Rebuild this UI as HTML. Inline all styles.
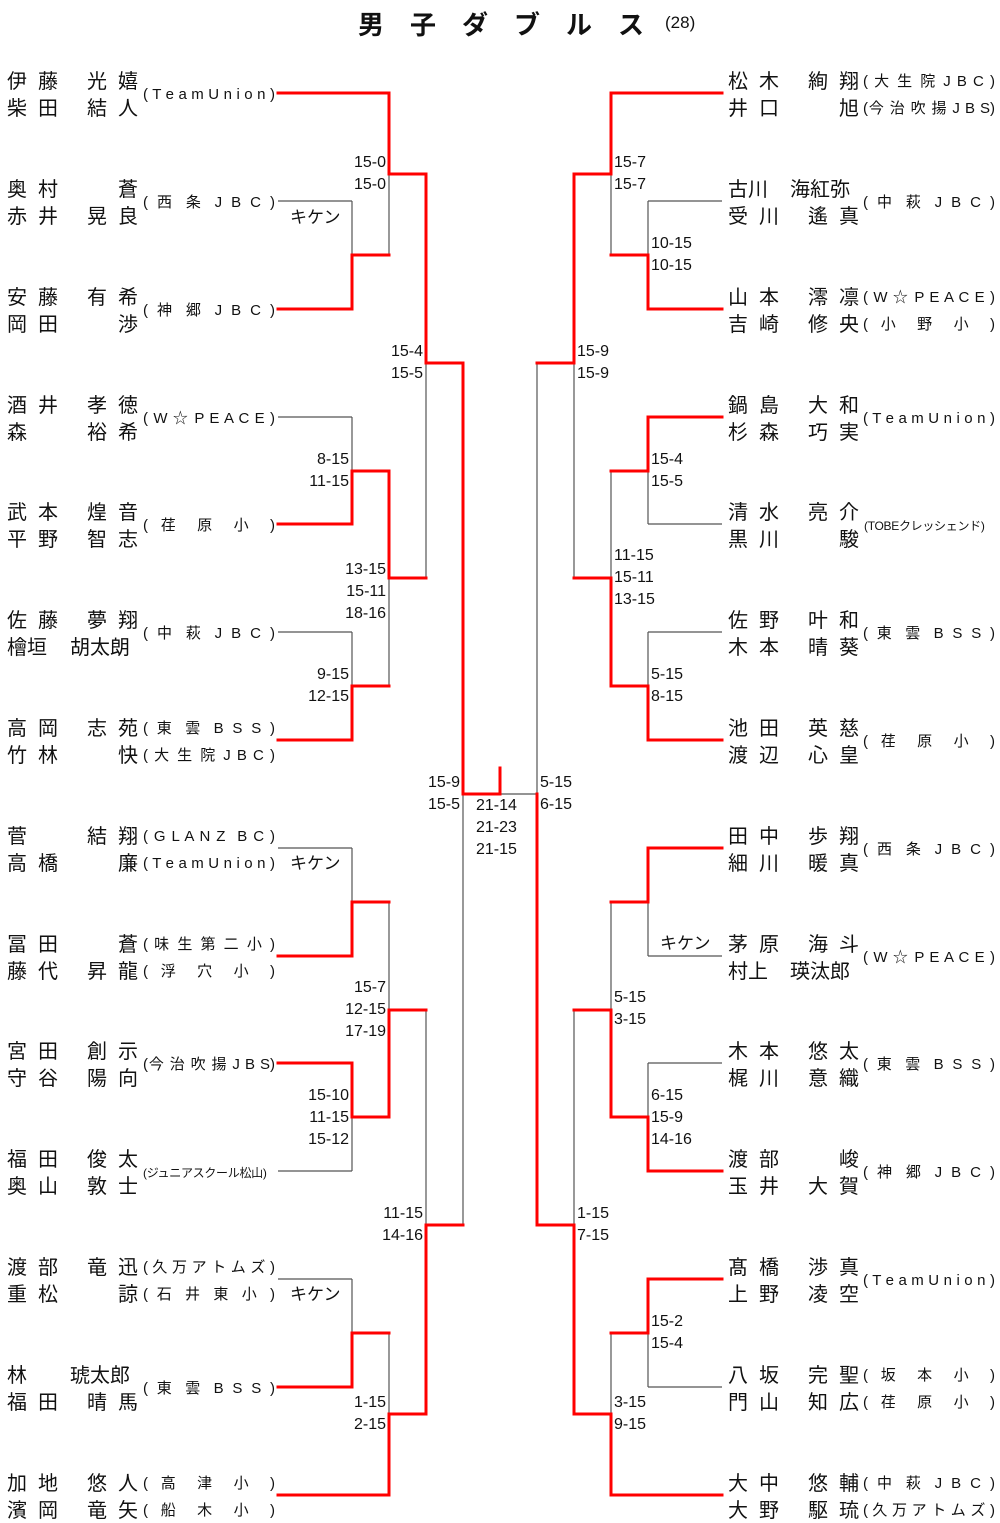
<!DOCTYPE html>
<html><head><meta charset="utf-8">
<style>
body{margin:0;background:#fff;}
#w{position:relative;width:1000px;height:1523px;overflow:hidden;font-family:"Liberation Sans","Noto Sans CJK JP",sans-serif;color:#111;}
.nm{position:absolute;height:20px;width:140px;font-size:20px;line-height:20px;white-space:nowrap;margin-top:2px}
.nm span{position:absolute;top:0;}
.s2{left:0;letter-spacing:11px}
.sc{left:0}
.g2{left:80px;letter-spacing:11px}
.g1{left:111px}
.g3{left:63px}
.af{position:absolute;width:132px;font-size:15px;line-height:18px;text-align:justify;text-align-last:justify;white-space:normal;height:18px;overflow:visible;margin-top:2px}
.afs{position:absolute;font-size:12px;line-height:18px;white-space:nowrap;letter-spacing:-0.3px;margin-top:2px}
.sl{position:absolute;font-size:16px;line-height:22px;text-align:right;white-space:nowrap}
.sr{position:absolute;font-size:16px;line-height:22px;text-align:left;white-space:nowrap}
.kk{position:absolute;font-size:17px;line-height:20px}
svg{position:absolute;left:0;top:0}
</style></head><body><div id="w">
<div style="position:absolute;left:358px;top:8px;font-size:26px;font-weight:bold;letter-spacing:26px;line-height:32px;font-family:'Noto Sans CJK JP',sans-serif">男子ダブルス</div>
<div style="position:absolute;left:665px;top:13px;font-size:17px;line-height:20px">(28)</div>

<svg width="1000" height="1523">
<g stroke="#555" stroke-width="1.2" fill="none">
<path d="M278 201H352M278 417H352M278 632H352M278 848H352M278 1171H352M278 1279H352
M352 201V255M389 174V255M352 417V471M352 632V686M389 578V686M426 363V578M463 794V1225M352 848V902M352 1117V1171M389 902V1010M352 1279V1333M389 1333V1414M426 1010V1225M500 794H537
M648 201H722M648 524H722M648 632H722M648 956H722M648 1063H722M648 1387H722
M648 201V255M611 174V255M648 471V524M648 632V686M611 471V578M574 363V578M537 363V794M648 902V956M648 1063V1117M611 902V1010M574 1010V1225M648 1333V1387M611 1333V1414"/>
</g>
<g stroke="#f00" stroke-width="3" fill="none" stroke-linecap="square">
<path d="M278 93H389V174H426M278 309H352V255H389M278 524H352V471H389M278 740H352V686H389M389 471V578H426M426 174V363H463V794H500V768
M278 956H352V902H389M278 1063H352V1117H389M389 1117V1010H426M278 1387H352V1333H389M278 1495H389V1414H426M426 1414V1225H463
M722 93H611V174H574M722 309H648V255H611M574 174V363H537M722 417H648V471H611M722 740H648V686H611M611 686V578H574M537 794V1225H574
M722 848H648V902H611M722 1171H648V1117H611M611 1117V1010H574M574 1225V1414H611M722 1279H648V1333H611M722 1495H611V1414"/>
</g>
</svg>

<!-- LEFT NAMES -->
<div class="nm" style="left:7px;top:70px"><span class="s2">伊藤</span><span class="g2">光嬉</span></div>
<div class="nm" style="left:7px;top:97px"><span class="s2">柴田</span><span class="g2">結人</span></div>
<div class="af" style="left:143px;top:84px">( T e a m U n i o n )</div>

<div class="nm" style="left:7px;top:178px"><span class="s2">奥村</span><span class="g1">蒼</span></div>
<div class="nm" style="left:7px;top:205px"><span class="s2">赤井</span><span class="g2">晃良</span></div>
<div class="af" style="left:143px;top:192px">( 西 条 J B C )</div>

<div class="nm" style="left:7px;top:286px"><span class="s2">安藤</span><span class="g2">有希</span></div>
<div class="nm" style="left:7px;top:313px"><span class="s2">岡田</span><span class="g1">渉</span></div>
<div class="af" style="left:143px;top:300px">( 神 郷 J B C )</div>

<div class="nm" style="left:7px;top:394px"><span class="s2">酒井</span><span class="g2">孝徳</span></div>
<div class="nm" style="left:7px;top:421px"><span class="sc">森</span><span class="g2">裕希</span></div>
<div class="af" style="left:143px;top:408px">( W ☆ P E A C E )</div>

<div class="nm" style="left:7px;top:501px"><span class="s2">武本</span><span class="g2">煌音</span></div>
<div class="nm" style="left:7px;top:528px"><span class="s2">平野</span><span class="g2">智志</span></div>
<div class="af" style="left:143px;top:515px">( 荏 原 小 )</div>

<div class="nm" style="left:7px;top:609px"><span class="s2">佐藤</span><span class="g2">夢翔</span></div>
<div class="nm" style="left:7px;top:636px"><span class="sc">檜垣</span><span class="g3">胡太朗</span></div>
<div class="af" style="left:143px;top:623px">( 中 萩 J B C )</div>

<div class="nm" style="left:7px;top:717px"><span class="s2">高岡</span><span class="g2">志苑</span></div>
<div class="nm" style="left:7px;top:744px"><span class="s2">竹林</span><span class="g1">快</span></div>
<div class="af" style="left:143px;top:718px">( 東 雲 B S S )</div>
<div class="af" style="left:143px;top:745px">( 大 生 院 J B C )</div>

<div class="nm" style="left:7px;top:825px"><span class="sc">菅</span><span class="g2">結翔</span></div>
<div class="nm" style="left:7px;top:852px"><span class="s2">高橋</span><span class="g1">廉</span></div>
<div class="af" style="left:143px;top:826px">( G L A N Z &nbsp;B C )</div>
<div class="af" style="left:143px;top:853px">( T e a m U n i o n )</div>

<div class="nm" style="left:7px;top:933px"><span class="s2">冨田</span><span class="g1">蒼</span></div>
<div class="nm" style="left:7px;top:960px"><span class="s2">藤代</span><span class="g2">昇龍</span></div>
<div class="af" style="left:143px;top:934px">( 味 生 第 二 小 )</div>
<div class="af" style="left:143px;top:961px">( 浮 穴 小 )</div>

<div class="nm" style="left:7px;top:1040px"><span class="s2">宮田</span><span class="g2">創示</span></div>
<div class="nm" style="left:7px;top:1067px"><span class="s2">守谷</span><span class="g2">陽向</span></div>
<div class="af" style="left:143px;top:1054px">(今 治 吹 揚 J B S)</div>

<div class="nm" style="left:7px;top:1148px"><span class="s2">福田</span><span class="g2">俊太</span></div>
<div class="nm" style="left:7px;top:1175px"><span class="s2">奥山</span><span class="g2">敦士</span></div>
<div class="afs" style="left:143px;top:1162px">(ジュニアスクール松山)</div>

<div class="nm" style="left:7px;top:1256px"><span class="s2">渡部</span><span class="g2">竜迅</span></div>
<div class="nm" style="left:7px;top:1283px"><span class="s2">重松</span><span class="g1">諒</span></div>
<div class="af" style="left:143px;top:1257px">( 久 万 ア ト ム ズ )</div>
<div class="af" style="left:143px;top:1284px">( 石 井 東 小 )</div>

<div class="nm" style="left:7px;top:1364px"><span class="sc">林</span><span class="g3">琥太郎</span></div>
<div class="nm" style="left:7px;top:1391px"><span class="s2">福田</span><span class="g2">晴馬</span></div>
<div class="af" style="left:143px;top:1378px">( 東 雲 B S S )</div>

<div class="nm" style="left:7px;top:1472px"><span class="s2">加地</span><span class="g2">悠人</span></div>
<div class="nm" style="left:7px;top:1499px"><span class="s2">濱岡</span><span class="g2">竜矢</span></div>
<div class="af" style="left:143px;top:1473px">( 高 津 小 )</div>
<div class="af" style="left:143px;top:1500px">( 船 木 小 )</div>

<!-- RIGHT NAMES -->
<div class="nm" style="left:728px;top:70px"><span class="s2">松木</span><span class="g2">絢翔</span></div>
<div class="nm" style="left:728px;top:97px"><span class="s2">井口</span><span class="g1">旭</span></div>
<div class="af" style="left:863px;top:71px">( 大 生 院 J B C )</div>
<div class="af" style="left:863px;top:98px">(今 治 吹 揚 J B S)</div>

<div class="nm" style="left:728px;top:178px"><span class="sc">古川</span><span class="g3" style="left:62px">海紅弥</span></div>
<div class="nm" style="left:728px;top:205px"><span class="s2">受川</span><span class="g2">遙真</span></div>
<div class="af" style="left:863px;top:192px">( 中 萩 J B C )</div>

<div class="nm" style="left:728px;top:286px"><span class="s2">山本</span><span class="g2">澪凛</span></div>
<div class="nm" style="left:728px;top:313px"><span class="s2">吉崎</span><span class="g2">修央</span></div>
<div class="af" style="left:863px;top:287px">( W ☆ P E A C E )</div>
<div class="af" style="left:863px;top:314px">( 小 野 小 )</div>

<div class="nm" style="left:728px;top:394px"><span class="s2">鍋島</span><span class="g2">大和</span></div>
<div class="nm" style="left:728px;top:421px"><span class="s2">杉森</span><span class="g2">巧実</span></div>
<div class="af" style="left:863px;top:408px">( T e a m U n i o n )</div>

<div class="nm" style="left:728px;top:501px"><span class="s2">清水</span><span class="g2">亮介</span></div>
<div class="nm" style="left:728px;top:528px"><span class="s2">黒川</span><span class="g1">駿</span></div>
<div class="afs" style="left:864px;top:515px">(TOBEクレッシェンド)</div>

<div class="nm" style="left:728px;top:609px"><span class="s2">佐野</span><span class="g2">叶和</span></div>
<div class="nm" style="left:728px;top:636px"><span class="s2">木本</span><span class="g2">晴葵</span></div>
<div class="af" style="left:863px;top:623px">( 東 雲 B S S )</div>

<div class="nm" style="left:728px;top:717px"><span class="s2">池田</span><span class="g2">英慈</span></div>
<div class="nm" style="left:728px;top:744px"><span class="s2">渡辺</span><span class="g2">心皇</span></div>
<div class="af" style="left:863px;top:731px">( 荏 原 小 )</div>

<div class="nm" style="left:728px;top:825px"><span class="s2">田中</span><span class="g2">歩翔</span></div>
<div class="nm" style="left:728px;top:852px"><span class="s2">細川</span><span class="g2">暖真</span></div>
<div class="af" style="left:863px;top:839px">( 西 条 J B C )</div>

<div class="nm" style="left:728px;top:933px"><span class="s2">茅原</span><span class="g2">海斗</span></div>
<div class="nm" style="left:728px;top:960px"><span class="sc">村上</span><span class="g3" style="left:62px">瑛汰郎</span></div>
<div class="af" style="left:863px;top:947px">( W ☆ P E A C E )</div>

<div class="nm" style="left:728px;top:1040px"><span class="s2">木本</span><span class="g2">悠太</span></div>
<div class="nm" style="left:728px;top:1067px"><span class="s2">梶川</span><span class="g2">意織</span></div>
<div class="af" style="left:863px;top:1054px">( 東 雲 B S S )</div>

<div class="nm" style="left:728px;top:1148px"><span class="s2">渡部</span><span class="g1">峻</span></div>
<div class="nm" style="left:728px;top:1175px"><span class="s2">玉井</span><span class="g2">大賀</span></div>
<div class="af" style="left:863px;top:1162px">( 神 郷 J B C )</div>

<div class="nm" style="left:728px;top:1256px"><span class="s2">髙橋</span><span class="g2">渉真</span></div>
<div class="nm" style="left:728px;top:1283px"><span class="s2">上野</span><span class="g2">凌空</span></div>
<div class="af" style="left:863px;top:1270px">( T e a m U n i o n )</div>

<div class="nm" style="left:728px;top:1364px"><span class="s2">八坂</span><span class="g2">完聖</span></div>
<div class="nm" style="left:728px;top:1391px"><span class="s2">門山</span><span class="g2">知広</span></div>
<div class="af" style="left:863px;top:1365px">( 坂 本 小 )</div>
<div class="af" style="left:863px;top:1392px">( 荏 原 小 )</div>

<div class="nm" style="left:728px;top:1472px"><span class="s2">大中</span><span class="g2">悠輔</span></div>
<div class="nm" style="left:728px;top:1499px"><span class="s2">大野</span><span class="g2">駆琉</span></div>
<div class="af" style="left:863px;top:1473px">( 中 萩 J B C )</div>
<div class="af" style="left:863px;top:1500px">( 久 万 ア ト ム ズ )</div>

<!-- KIKEN -->
<div class="kk" style="left:290px;top:208px">キケン</div>
<div class="kk" style="left:290px;top:854px">キケン</div>
<div class="kk" style="left:290px;top:1285px">キケン</div>
<div class="kk" style="left:660px;top:934px">キケン</div>

<!-- LEFT SCORES -->
<div class="sl" style="right:614px;top:152px">15-0<br>15-0</div>
<div class="sl" style="right:577px;top:341px">15-4<br>15-5</div>
<div class="sl" style="right:651px;top:449px">8-15<br>11-15</div>
<div class="sl" style="right:614px;top:559px">13-15<br>15-11<br>18-16</div>
<div class="sl" style="right:651px;top:664px">9-15<br>12-15</div>
<div class="sl" style="right:540px;top:772px">15-9<br>15-5</div>
<div class="sl" style="right:614px;top:977px">15-7<br>12-15<br>17-19</div>
<div class="sl" style="right:651px;top:1085px">15-10<br>11-15<br>15-12</div>
<div class="sl" style="right:577px;top:1203px">11-15<br>14-16</div>
<div class="sl" style="right:614px;top:1392px">1-15<br>2-15</div>

<!-- RIGHT SCORES -->
<div class="sr" style="left:614px;top:152px">15-7<br>15-7</div>
<div class="sr" style="left:651px;top:233px">10-15<br>10-15</div>
<div class="sr" style="left:577px;top:341px">15-9<br>15-9</div>
<div class="sr" style="left:651px;top:449px">15-4<br>15-5</div>
<div class="sr" style="left:614px;top:545px">11-15<br>15-11<br>13-15</div>
<div class="sr" style="left:651px;top:664px">5-15<br>8-15</div>
<div class="sr" style="left:540px;top:772px">5-15<br>6-15</div>
<div class="sr" style="left:614px;top:987px">5-15<br>3-15</div>
<div class="sr" style="left:651px;top:1085px">6-15<br>15-9<br>14-16</div>
<div class="sr" style="left:577px;top:1203px">1-15<br>7-15</div>
<div class="sr" style="left:651px;top:1311px">15-2<br>15-4</div>
<div class="sr" style="left:614px;top:1392px">3-15<br>9-15</div>

<div class="sr" style="left:476px;top:795px">21-14<br>21-23<br>21-15</div>
</div></body></html>
